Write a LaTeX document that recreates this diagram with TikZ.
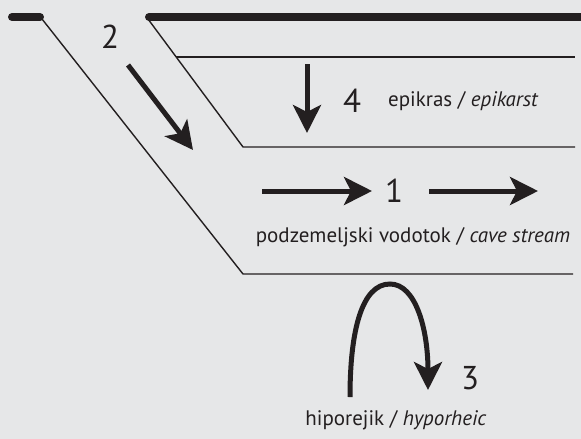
\documentclass[tikz,border=0pt]{standalone}
\usepackage{fontspec}
\setmainfont{PT Sans}
\usetikzlibrary{arrows.meta}
\definecolor{bg}{HTML}{E6E7E8}
\definecolor{ink}{HTML}{231F20}
\begin{document}
\begin{tikzpicture}[x=1pt,y=-1pt,
  thinline/.style={line width=1.4pt,draw=ink},
  surface/.style={line width=8pt,draw=ink,line cap=round},
  flow/.style={line width=5pt,draw=ink,-{Stealth[length=28pt,width=28pt,inset=7pt]}},
  digit/.style={text=ink,font=\fontsize{33}{33}\selectfont,inner sep=0pt},
  caption/.style={text=ink,font=\fontsize{21}{21}\selectfont,inner sep=0pt}]
\fill[bg] (0,0) rectangle (581,439);
\useasboundingbox (0,0) rectangle (581,439);
% ground surface
\draw[surface] (12,17) -- (40,17);
\draw[surface] (149,17) -- (585,17);
% outer conduit wall
\coordinate (o1) at (42,19);
\coordinate (o2) at (243,274);
\coordinate (o3) at (573,274);
\draw[thinline] (o1) -- (o2) -- (o3);
% inner wall, epikarst base
\coordinate (i1) at (148,19);
\coordinate (i2) at (243,147);
\coordinate (i3) at (575,147);
\draw[thinline] (i1) -- (i2) -- (i3);
\coordinate (e1) at (176,57);
\coordinate (e2) at (575,57);
\draw[thinline] (e1) -- (e2);
% 2: infiltration
\coordinate (a2s) at (128,65);
\coordinate (a2e) at (193,150);
\draw[flow] (a2s) -- (a2e);
\node[digit] (n2) at (110,37) {2};
% 4: epikarst percolation
\coordinate (a4s) at (307,64);
\coordinate (a4e) at (307,133);
\draw[flow] (a4s) -- (a4e);
\node[digit] (n4) at (352,101) {4};
\node[caption,anchor=west] (t4) at (388,101) {epikras / \textit{epikarst}};
% 1: cave stream
\coordinate (a1s) at (262,191);
\coordinate (a1e) at (372,191);
\coordinate (b1s) at (429,191);
\coordinate (b1e) at (538,191);
\draw[flow] (a1s) -- (a1e);
\draw[flow] (b1s) -- (b1e);
\node[digit] (n1) at (394,191) {1};
\node[caption] (t1) at (413,237) {podzemeljski vodotok / \textit{cave stream}};
% 3: hyporheic exchange
\coordinate (a3s) at (350,397);
\coordinate (a3t) at (390,284);
\coordinate (a3e) at (428,390);
\draw[flow] (a3s) .. controls (350,330) and (362,284) .. (a3t)
  .. controls (416,284) and (428,330) .. (a3e);
\node[digit] (n3) at (470,378) {3};
\node[caption] (t3) at (396,420) {hiporejik / \textit{hyporheic}};
\end{tikzpicture}
\end{document}
